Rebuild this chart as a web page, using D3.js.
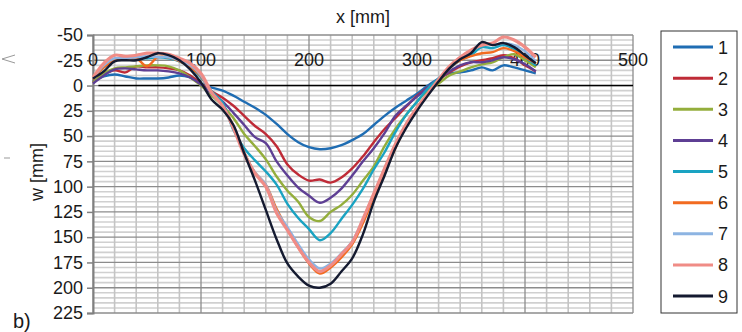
<!DOCTYPE html>
<html>
<head>
<meta charset="utf-8">
<script src="https://cdn.jsdelivr.net/npm/d3@7"></script>
<style>
  body { margin: 0; background: #fff; }
  text { font-family: "Liberation Sans", Arial, sans-serif; fill: #1a1a1a; }
</style>
</head>
<body>
<script>
// x positions [mm] shared by every series
const xs = [0, 10, 20, 30, 40, 50, 60, 70, 80, 90, 100, 110, 120, 130, 140, 150, 160, 170, 180, 190, 200,
    210, 220, 230, 240, 250, 260, 270, 280, 290, 300, 310, 320, 330, 340, 350, 360, 370, 380, 390, 400, 410];

const s1 = [-4, -9, -11, -9, -7, -7, -7, -8, -10, -8, -2, 2, 5, 10, 16, 22, 29, 38, 48, 56, 61,
    63, 62, 59, 54, 48, 39, 30, 22, 15, 8, 0, -7, -12, -13, -15, -18, -15, -20, -18, -15, -12];
const s2 = [-3, -11, -15, -13, -19, -18, -18, -17, -15, -10, -2, 6, 12, 20, 30, 40, 48, 60, 78, 88, 94,
    93, 96, 91, 82, 70, 56, 43, 32, 21, 10, 2, -6, -13, -19, -23, -25, -27, -30, -27, -20, -14];
const s3 = [-3, -12, -17, -18, -19, -20, -20, -19, -15, -8, 0, 10, 20, 32, 48, 60, 73, 90, 104, 115, 130,
    134, 125, 118, 108, 94, 80, 60, 43, 29, 16, 5, -2, -10, -14, -18, -21, -23, -28, -31, -25, -18];
const s4 = [-2, -10, -16, -17, -16, -15, -15, -14, -12, -8, -1, 8, 16, 27, 39, 51, 57, 75, 89, 101, 109,
    116, 111, 102, 89, 75, 62, 47, 30, 20, 11, 2, -6, -14, -20, -23, -23, -25, -28, -26, -21, -14];
const s5 = [-6, -18, -25, -26, -27, -27, -28, -27, -24, -18, -8, 6, 17, 44, 62, 74, 85, 98, 117, 131, 142,
    153, 146, 132, 118, 102, 83, 66, 46, 29, 16, 3, -7, -17, -25, -30, -38, -37, -40, -36, -28, -20];
const s6 = [-6, -18, -25, -26, -27, -19, -28, -28, -24, -18, -9, 8, 20, 40, 66, 86, 98, 122, 142, 160, 176,
    186, 180, 170, 157, 136, 110, 86, 62, 40, 24, 9, -4, -17, -25, -29, -32, -33, -37, -34, -28, -22];
const s7 = [-7, -20, -27, -27, -28, -29, -28, -28, -25, -20, -10, 8, 20, 41, 67, 86, 98, 124, 140, 157, 172,
    181, 176, 166, 154, 132, 107, 82, 58, 38, 22, 8, -5, -18, -28, -34, -42, -40, -42, -40, -34, -24];
const s8 = [-8, -22, -30, -29, -30, -32, -32, -31, -27, -22, -12, 7, 20, 42, 68, 87, 100, 126, 143, 160, 175,
    184, 178, 167, 155, 132, 107, 82, 58, 38, 22, 8, -6, -19, -28, -35, -40, -42, -48, -45, -38, -28];
const s9 = [-7, -14, -24, -25, -25, -28, -32, -30, -25, -16, -3, 14, 24, 39, 67, 94, 123, 152, 176, 189, 198,
    200, 196, 184, 171, 147, 115, 89, 62, 42, 25, 10, -4, -17, -26, -32, -43, -40, -42, -38, -30, -22];

const seriesNames = ['1', '2', '3', '4', '5', '6', '7', '8', '9'];
const seriesValues = [s1, s2, s3, s4, s5, s6, s7, s8, s9];
const colors = ['#1f6db3', '#bf2b37', '#94ae3c', '#5e3f94', '#1aa3c2', '#f26b21', '#8db4e2', '#f08c86', '#141a30'];

const xTicks = [0, 100, 200, 300, 400, 500];
const yTicks = [-50, -25, 0, 25, 50, 75, 100, 125, 150, 175, 200, 225];

const W = 742, H = 332;
const svg = d3.select('body').append('svg').attr('width', W).attr('height', H);

const x = d3.scaleLinear().domain([0, 500]).range([93, 633]);
const y = d3.scaleLinear().domain([-50, 225]).range([35, 313]);

// gridlines
const grid = svg.append('g');
grid.selectAll('.hmin').data(d3.range(-50, 226, 5).filter(v => v % 25 !== 0)).enter()
    .append('line')
    .attr('x1', x(0)).attr('x2', x(500))
    .attr('y1', d => y(d)).attr('y2', d => y(d))
    .attr('stroke', '#d0d0d0').attr('stroke-width', 1.6);
grid.selectAll('.vmin').data(d3.range(0, 501, 20).filter(v => v % 100 !== 0)).enter()
    .append('line')
    .attr('x1', d => x(d)).attr('x2', d => x(d))
    .attr('y1', y(-50)).attr('y2', y(225))
    .attr('stroke', '#c4c4c4').attr('stroke-width', 1.6);
grid.selectAll('.hmaj').data(yTicks).enter()
    .append('line')
    .attr('x1', x(0)).attr('x2', x(500))
    .attr('y1', d => y(d)).attr('y2', d => y(d))
    .attr('stroke', '#8c8c8c').attr('stroke-width', 1.3);
grid.selectAll('.vmaj').data(xTicks).enter()
    .append('line')
    .attr('x1', d => x(d)).attr('x2', d => x(d))
    .attr('y1', y(-50)).attr('y2', y(225))
    .attr('stroke', '#8c8c8c').attr('stroke-width', 1.3);

// left axis (plain hyphen minus like the original)
const yAxis = svg.append('g')
    .attr('transform', `translate(${x(0)},0)`)
    .call(d3.axisLeft(y).tickValues(yTicks).tickFormat(d => String(d)).tickSize(6).tickPadding(4));
yAxis.select('.domain').attr('stroke', '#808080').attr('stroke-width', 2);
yAxis.selectAll('.tick line').attr('stroke', '#808080').attr('stroke-width', 1.5);
yAxis.selectAll('.tick text')
    .attr('font-size', 18).attr('font-family', '"Liberation Sans", Arial, sans-serif').attr('fill', '#1a1a1a');

// zero line and x labels sitting above it
svg.append('line')
    .attr('x1', x(5)).attr('x2', x(500))
    .attr('y1', y(0)).attr('y2', y(0))
    .attr('stroke', '#000').attr('stroke-width', 1.5);
svg.selectAll('.xlab').data(xTicks).enter()
    .append('text')
    .attr('x', d => x(d)).attr('y', y(-25) + 6)
    .attr('text-anchor', 'middle')
    .attr('font-size', 18)
    .text(d => d);

// series
const line = d3.line()
    .x(d => x(d[0])).y(d => y(d[1]))
    .curve(d3.curveCatmullRom.alpha(0.5));

seriesValues.forEach((vals, i) => {
    svg.append('path')
        .datum(xs.map((xv, j) => [xv, vals[j]]))
        .attr('fill', 'none')
        .attr('stroke', colors[i])
        .attr('stroke-width', i === 7 ? 3.2 : 2.4)
        .attr('stroke-linejoin', 'round')
        .attr('d', line);
});

// titles
svg.append('text').attr('x', 363).attr('y', 23).attr('text-anchor', 'middle')
    .attr('font-size', 18).text('x [mm]');
svg.append('text').attr('transform', 'translate(43,172) rotate(-90)').attr('text-anchor', 'middle')
    .attr('font-size', 18).text('w [mm]');
svg.append('text').attr('x', 13).attr('y', 328).attr('font-size', 20).text('b)');

// legend
const legend = svg.append('g');
legend.append('rect')
    .attr('x', 661).attr('y', 31).attr('width', 76).attr('height', 282)
    .attr('fill', '#fff').attr('stroke', '#333').attr('stroke-width', 1);
const ly = d3.scalePoint().domain(seriesNames).range([47, 296]);
seriesNames.forEach((n, i) => {
    legend.append('line')
        .attr('x1', 673).attr('x2', 713)
        .attr('y1', ly(n)).attr('y2', ly(n))
        .attr('stroke', colors[i]).attr('stroke-width', 3);
    legend.append('text')
        .attr('x', 718).attr('y', ly(n) + 6.5)
        .attr('font-size', 18).text(n);
});

// stray marks at the left edge of the cropped figure
svg.append('path').attr('d', 'M15,55 L2,59 L15,63').attr('fill', 'none').attr('stroke', '#999').attr('stroke-width', 1);
svg.append('line').attr('x1', 4).attr('x2', 10).attr('y1', 158).attr('y2', 158).attr('stroke', '#999').attr('stroke-width', 1);
</script>
</body>
</html>
